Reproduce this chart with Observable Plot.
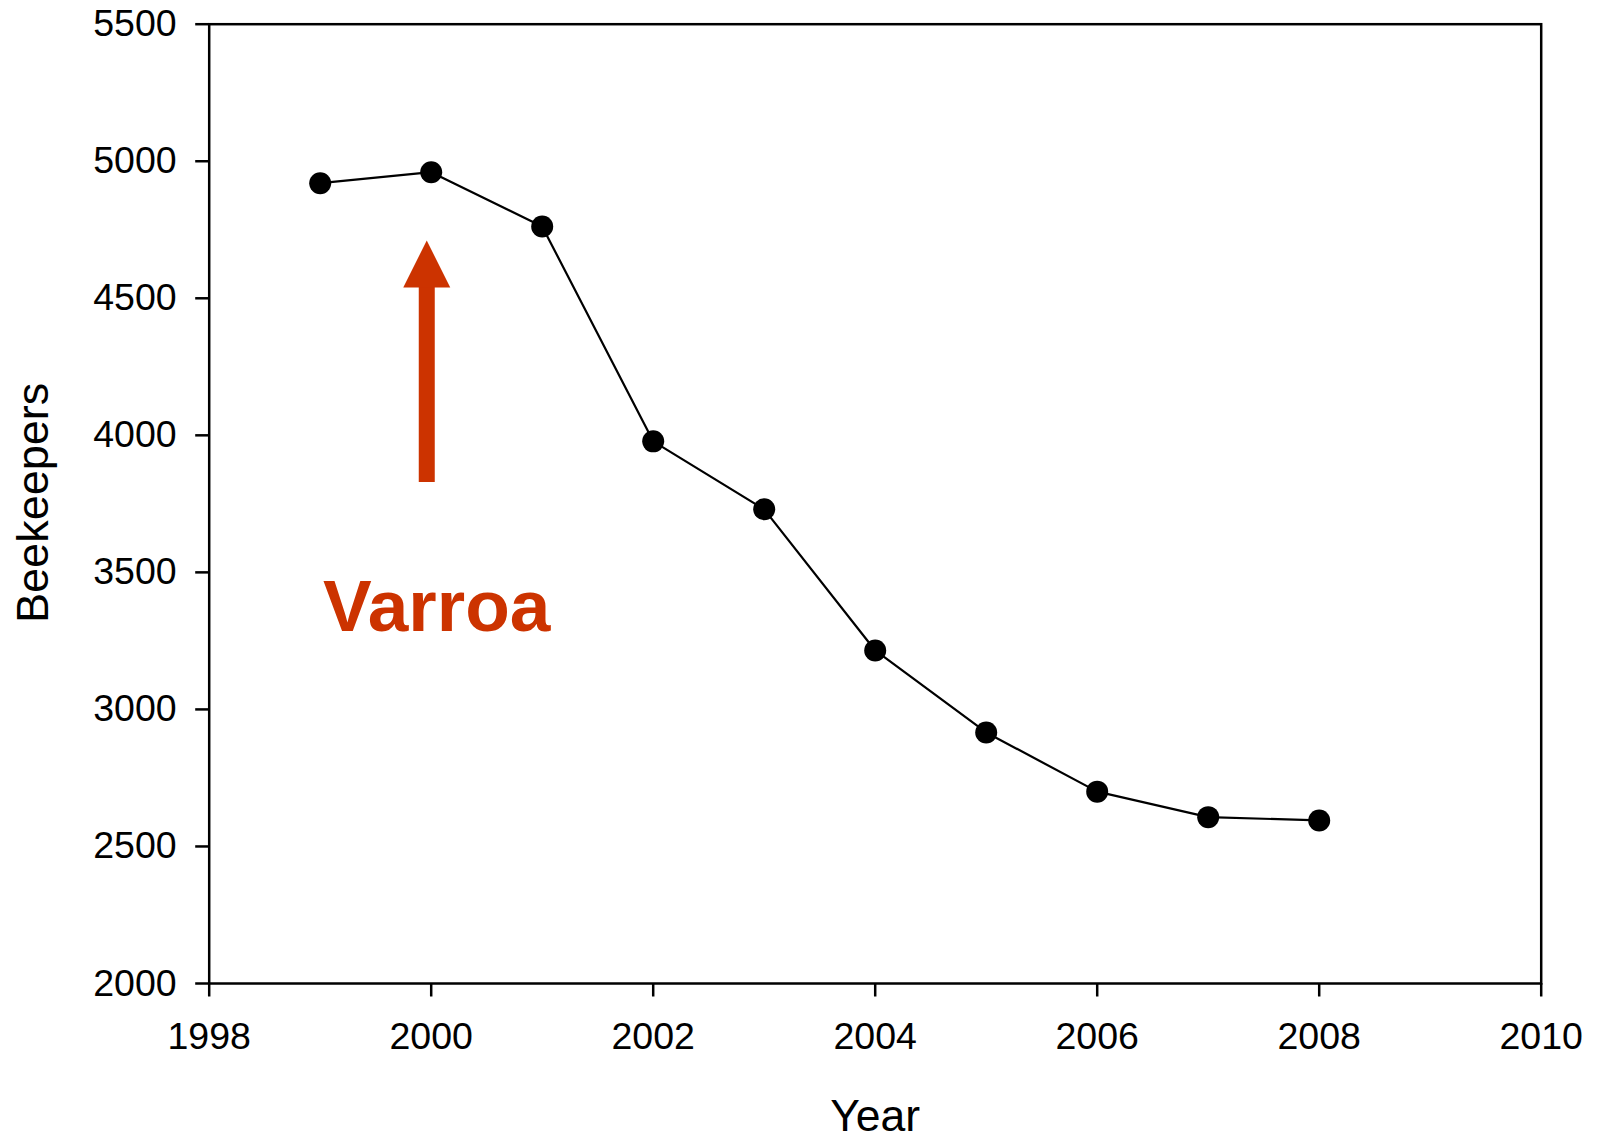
<!DOCTYPE html>
<html>
<head>
<meta charset="utf-8">
<script src="https://cdn.jsdelivr.net/npm/d3@7"></script>
<script src="https://cdn.jsdelivr.net/npm/@observablehq/plot@0.6"></script>
<style>
  html, body { margin: 0; padding: 0; background: #fff; }
</style>
</head>
<body>
<div id="chart"></div>
<script>
// Data
const years = [1999, 2000, 2001, 2002, 2003, 2004, 2005, 2006, 2007, 2008];
const beekeepers = [4920, 4960, 4762, 3978, 3730, 3215, 2916, 2700, 2607, 2595];
const xTicks = [1998, 2000, 2002, 2004, 2006, 2008, 2010];
const yTicks = [2000, 2500, 3000, 3500, 4000, 4500, 5000, 5500];

// Annotation (in data units)
const arrowYear = [1999.96];
const arrowTip = [4711];
const arrowHeadBase = [4538];
const arrowTail = [3828];
const annotationLabel = ["Varroa"];
const annotationYear = [2000.05];
const annotationValue = [3372];

const data = years.map((y, i) => ({year: y, value: beekeepers[i]}));
const accent = "#CC3300";

// Filled triangle head whose anchor point is the tip
const headSymbol = {
  draw(context, size) {
    const w = 47, h = 47;
    context.moveTo(0, 0);
    context.lineTo(w / 2, h);
    context.lineTo(-w / 2, h);
    context.closePath();
  }
};

const chart = Plot.plot({
  width: 1604,
  height: 1139,
  marginLeft: 208.7,
  marginRight: 63.3,
  marginTop: 23.7,
  marginBottom: 156,
  style: {fontFamily: "'Liberation Sans', Arial, sans-serif", color: "black", background: "white"},
  x: {domain: [1998, 2010]},
  y: {domain: [2000, 5500]},
  marks: [
    Plot.frame({stroke: "black", strokeWidth: 2.5}),
    Plot.axisX({ticks: xTicks, tickSize: 13.5, tickPadding: 25, fontSize: 37.5, tickFormat: d => String(d), label: null, strokeWidth: 2.5}),
    Plot.axisY({ticks: yTicks, tickSize: 13.5, tickPadding: 19, fontSize: 37.5, tickFormat: d => String(d), label: null, strokeWidth: 2.5}),
    Plot.text(["Year"], {frameAnchor: "bottom", dy: 133, fontSize: 44.5, fill: "black", textAnchor: "middle", lineAnchor: "middle"}),
    Plot.text(["Beekeepers"], {frameAnchor: "left", dx: -176, dy: -1, rotate: -90, fontSize: 45, fill: "black", textAnchor: "middle", lineAnchor: "middle"}),
    Plot.line(data, {x: "year", y: "value", stroke: "black", strokeWidth: 2.2}),
    Plot.dot(data, {x: "year", y: "value", r: 11, fill: "black", stroke: "none"}),
    Plot.ruleX(arrowYear, {x: d => d, y1: arrowTail[0], y2: arrowHeadBase[0] + 5, stroke: accent, strokeWidth: 16}),
    Plot.dot(arrowYear, {x: d => d, y: arrowTip[0], symbol: headSymbol, r: 10, fill: accent, stroke: "none"}),
    Plot.text(annotationLabel, {x: annotationYear[0], y: annotationValue[0], fontSize: 73, fontWeight: "bold", fill: accent, textAnchor: "middle", lineAnchor: "middle"})
  ]
});
document.getElementById("chart").appendChild(chart);
</script>
</body>
</html>
